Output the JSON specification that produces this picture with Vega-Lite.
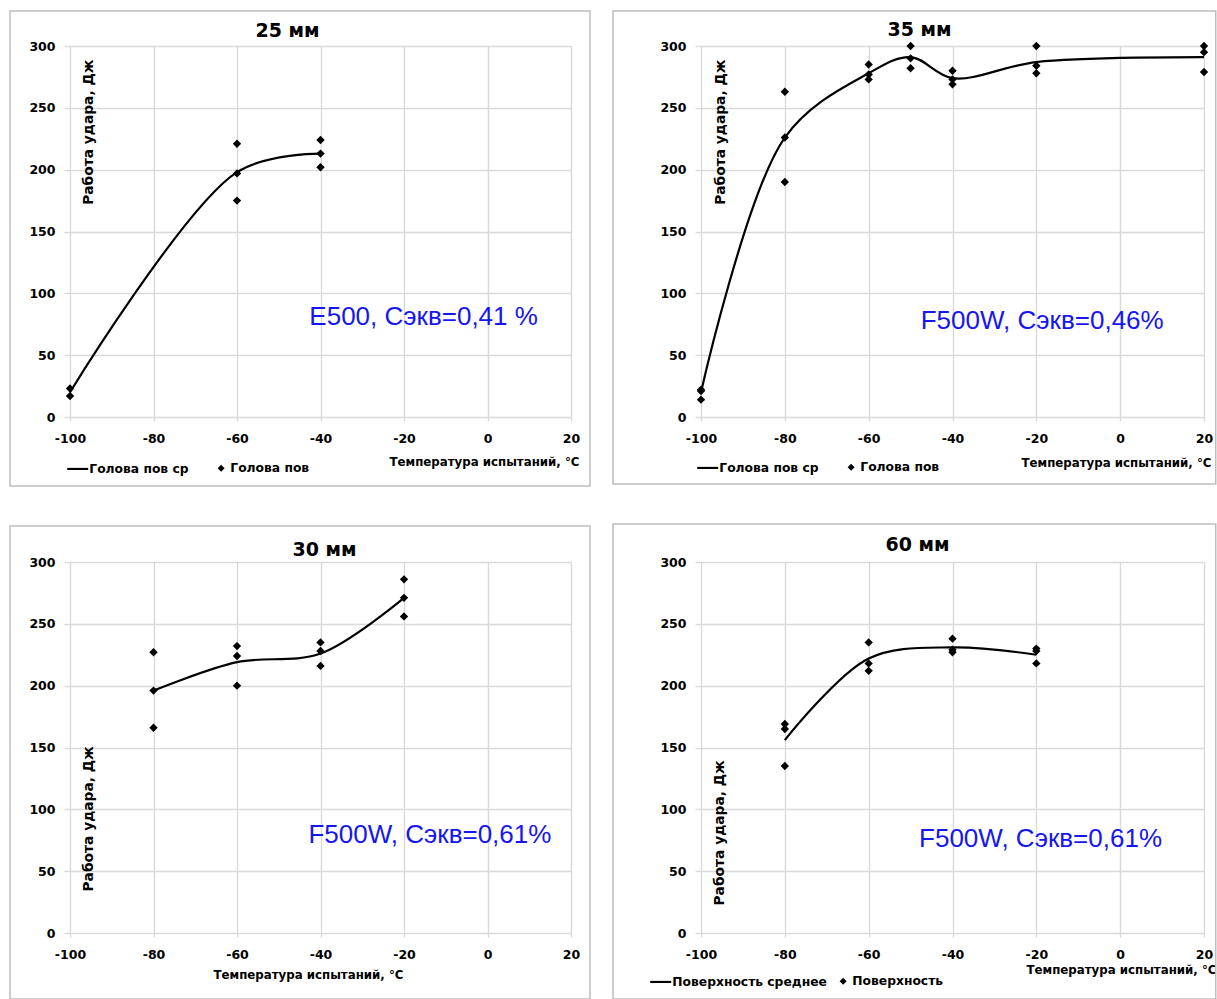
{
  "$schema": "https://vega.github.io/schema/vega-lite/v6.json",
  "background": "white",
  "padding": {"left": 9, "top": 10, "right": 0, "bottom": 0},
  "config": {
    "font": "DejaVu Sans",
    "view": {"stroke": null},
    "axis": {"grid": true, "gridColor": "#d9d9d9", "gridWidth": 1.4, "domain": false, "tickColor": "#d9d9d9", "tickWidth": 1.4, "labelFont": "DejaVu Sans", "labelFontWeight": "bold", "labelFontSize": 12.5, "labelColor": "black", "titleFont": "DejaVu Sans", "titleFontWeight": "bold", "titleColor": "black"},
    "axisX": {"tickSize": 4, "labelPadding": 11, "labelFlush": false, "titleBaseline": "middle", "titleFontSize": 11.8},
    "axisY": {"tickSize": 6, "labelPadding": 9, "titleAngle": -90, "titleBaseline": "middle", "titleFontSize": 13.8},
    "title": {"font": "DejaVu Sans", "fontSize": 19, "fontWeight": "bold", "color": "black", "baseline": "alphabetic"},
    "legend": {"orient": "none", "direction": "horizontal", "labelFont": "DejaVu Sans", "labelFontWeight": "bold", "labelFontSize": 12.3, "labelColor": "black", "symbolSize": 49, "symbolStrokeColor": "black", "symbolStrokeWidth": 2, "symbolFillColor": "black", "columnPadding": 24, "labelOffset": 3, "padding": 0}
  },
  "datasets": {
    "p25": [
      {"t": -100, "e": 20, "s": "Голова пов ср"},
      {"t": -60, "e": 198, "s": "Голова пов ср"},
      {"t": -40, "e": 213, "s": "Голова пов ср"},
      {"t": -100, "e": 23, "s": "Голова пов"},
      {"t": -100, "e": 17, "s": "Голова пов"},
      {"t": -60, "e": 221, "s": "Голова пов"},
      {"t": -60, "e": 197, "s": "Голова пов"},
      {"t": -60, "e": 175, "s": "Голова пов"},
      {"t": -40, "e": 224, "s": "Голова пов"},
      {"t": -40, "e": 213, "s": "Голова пов"},
      {"t": -40, "e": 202, "s": "Голова пов"}
    ],
    "p35": [
      {"t": -100, "e": 20, "s": "Голова пов ср"},
      {"t": -80, "e": 226, "s": "Голова пов ср"},
      {"t": -60, "e": 278, "s": "Голова пов ср"},
      {"t": -50, "e": 291, "s": "Голова пов ср"},
      {"t": -40, "e": 274, "s": "Голова пов ср"},
      {"t": -20, "e": 287, "s": "Голова пов ср"},
      {"t": 20, "e": 291, "s": "Голова пов ср"},
      {"t": -100, "e": 22, "s": "Голова пов"},
      {"t": -100, "e": 21, "s": "Голова пов"},
      {"t": -100, "e": 14, "s": "Голова пов"},
      {"t": -80, "e": 263, "s": "Голова пов"},
      {"t": -80, "e": 226, "s": "Голова пов"},
      {"t": -80, "e": 190, "s": "Голова пов"},
      {"t": -60, "e": 285, "s": "Голова пов"},
      {"t": -60, "e": 277, "s": "Голова пов"},
      {"t": -60, "e": 273, "s": "Голова пов"},
      {"t": -50, "e": 300, "s": "Голова пов"},
      {"t": -50, "e": 290, "s": "Голова пов"},
      {"t": -50, "e": 282, "s": "Голова пов"},
      {"t": -40, "e": 280, "s": "Голова пов"},
      {"t": -40, "e": 273, "s": "Голова пов"},
      {"t": -40, "e": 269, "s": "Голова пов"},
      {"t": -20, "e": 300, "s": "Голова пов"},
      {"t": -20, "e": 284, "s": "Голова пов"},
      {"t": -20, "e": 278, "s": "Голова пов"},
      {"t": 20, "e": 300, "s": "Голова пов"},
      {"t": 20, "e": 295, "s": "Голова пов"},
      {"t": 20, "e": 279, "s": "Голова пов"}
    ],
    "p30": [
      {"t": -80, "e": 196, "s": "ср"},
      {"t": -60, "e": 219, "s": "ср"},
      {"t": -40, "e": 226, "s": "ср"},
      {"t": -20, "e": 271, "s": "ср"},
      {"t": -80, "e": 227, "s": "пов"},
      {"t": -80, "e": 196, "s": "пов"},
      {"t": -80, "e": 166, "s": "пов"},
      {"t": -60, "e": 232, "s": "пов"},
      {"t": -60, "e": 224, "s": "пов"},
      {"t": -60, "e": 200, "s": "пов"},
      {"t": -40, "e": 235, "s": "пов"},
      {"t": -40, "e": 228, "s": "пов"},
      {"t": -40, "e": 216, "s": "пов"},
      {"t": -20, "e": 286, "s": "пов"},
      {"t": -20, "e": 271, "s": "пов"},
      {"t": -20, "e": 256, "s": "пов"}
    ],
    "p60": [
      {"t": -80, "e": 156, "s": "Поверхность среднее"},
      {"t": -60, "e": 222, "s": "Поверхность среднее"},
      {"t": -40, "e": 231, "s": "Поверхность среднее"},
      {"t": -20, "e": 225, "s": "Поверхность среднее"},
      {"t": -80, "e": 169, "s": "Поверхность"},
      {"t": -80, "e": 165, "s": "Поверхность"},
      {"t": -80, "e": 135, "s": "Поверхность"},
      {"t": -60, "e": 235, "s": "Поверхность"},
      {"t": -60, "e": 218, "s": "Поверхность"},
      {"t": -60, "e": 212, "s": "Поверхность"},
      {"t": -40, "e": 238, "s": "Поверхность"},
      {"t": -40, "e": 229, "s": "Поверхность"},
      {"t": -40, "e": 227, "s": "Поверхность"},
      {"t": -20, "e": 230, "s": "Поверхность"},
      {"t": -20, "e": 228, "s": "Поверхность"},
      {"t": -20, "e": 218, "s": "Поверхность"}
    ]
  },
  "columns": 2,
  "spacing": {"row": 145, "column": 130},
  "bounds": "flush",
  "resolve": {"scale": {"shape": "independent"}, "legend": {"shape": "independent"}},
  "concat": [
    {
      "width": 501, "height": 371,
      "title": {"text": "25 мм", "dx": -33, "offset": -31},
      "data": {"name": "p25"},
      "layer": [
        {"data": {"values": [{}]},
          "mark": {"type": "rect", "filled": false, "color": "#bdbdbd", "strokeWidth": 1.5},
          "encoding": {
            "x": {"datum": -114.37, "type": "quantitative", "title": "Температура испытаний, °C"}, "x2": {"datum": 24.55},
            "y": {"datum": 328.3, "type": "quantitative", "title": "Работа  удара, Дж"}, "y2": {"datum": -55.8}}},
        {"transform": [{"filter": "datum.s == 'Голова пов ср'"}],
          "mark": {"type": "line", "interpolate": "catmull-rom", "color": "black", "strokeWidth": 2.2},
          "encoding": {
            "x": {"field": "t", "type": "quantitative", "scale": {"domain": [-100, 20], "nice": false, "zero": false},
              "axis": {"values": [-100, -80, -60, -40, -20, 0, 20], "labelExpr": "replace(datum.label, '\u2212', '-')", "title": "Температура испытаний, °C", "titleAlign": "right", "titleAnchor": "end", "titleX": 509, "titleY": 44}},
            "y": {"field": "e", "type": "quantitative", "scale": {"domain": [0, 300], "nice": false},
              "axis": {"values": [0, 50, 100, 150, 200, 250, 300], "title": "Работа  удара, Дж", "titleAlign": "right", "titleX": 18, "titleY": 13}}
          }},
        {"transform": [{"filter": "datum.s == 'Голова пов'"}],
          "mark": {"type": "point", "filled": true, "color": "black", "size": 70, "opacity": 1},
          "encoding": {
            "x": {"field": "t", "type": "quantitative", "title": "Температура испытаний, °C"},
            "y": {"field": "e", "type": "quantitative", "title": "Работа  удара, Дж"},
            "shape": {"field": "s", "type": "nominal",
              "scale": {"domain": ["Голова пов ср", "Голова пов"], "range": ["M-3.7,-0.3H2.3V0.3H-3.7Z", "diamond"]},
              "legend": {"title": null, "legendX": 4, "legendY": 416, "encode": {"symbols": {"update": {"stroke": {"value": "black"}, "strokeWidth": {"value": 1}, "fill": {"value": "black"}}}}}}}},
        {"data": {"values": [{"label": "E500, Сэкв=0,41 %"}]},
          "mark": {"type": "text", "color": "#1616f2", "fontSize": 26, "align": "center", "baseline": "middle", "font": "Liberation Sans"},
          "encoding": {
            "x": {"datum": -15.3, "type": "quantitative", "title": "Температура испытаний, °C"},
            "y": {"datum": 81, "type": "quantitative", "title": "Работа  удара, Дж"},
            "text": {"field": "label"}}}
      ]
    },
    {
      "width": 503, "height": 371,
      "title": {"text": "35 мм", "dx": -33, "offset": -30},
      "data": {"name": "p35"},
      "layer": [
        {"data": {"values": [{}]},
          "mark": {"type": "rect", "filled": false, "color": "#bdbdbd", "strokeWidth": 1.5},
          "encoding": {
            "x": {"datum": -120.99, "type": "quantitative", "title": "Температура испытаний, °C"}, "x2": {"datum": 22.8},
            "y": {"datum": 328.3, "type": "quantitative", "title": "Работа  удара, Дж"}, "y2": {"datum": -54.2}}},
        {"transform": [{"filter": "datum.s == 'Голова пов ср'"}],
          "mark": {"type": "line", "interpolate": "catmull-rom", "color": "black", "strokeWidth": 2.2},
          "encoding": {
            "x": {"field": "t", "type": "quantitative", "scale": {"domain": [-100, 20], "nice": false, "zero": false},
              "axis": {"values": [-100, -80, -60, -40, -20, 0, 20], "labelExpr": "replace(datum.label, '\u2212', '-')", "title": "Температура испытаний, °C", "titleAlign": "right", "titleAnchor": "end", "titleX": 510, "titleY": 45}},
            "y": {"field": "e", "type": "quantitative", "scale": {"domain": [0, 300], "nice": false},
              "axis": {"values": [0, 50, 100, 150, 200, 250, 300], "title": "Работа  удара, Дж", "titleAlign": "right", "titleX": 19, "titleY": 13}}
          }},
        {"transform": [{"filter": "datum.s == 'Голова пов'"}],
          "mark": {"type": "point", "filled": true, "color": "black", "size": 70, "opacity": 1},
          "encoding": {
            "x": {"field": "t", "type": "quantitative", "title": "Температура испытаний, °C"},
            "y": {"field": "e", "type": "quantitative", "title": "Работа  удара, Дж"},
            "shape": {"field": "s", "type": "nominal",
              "scale": {"domain": ["Голова пов ср", "Голова пов"], "range": ["M-3.7,-0.3H2.3V0.3H-3.7Z", "diamond"]},
              "legend": {"title": null, "legendX": 3, "legendY": 415, "encode": {"symbols": {"update": {"stroke": {"value": "black"}, "strokeWidth": {"value": 1}, "fill": {"value": "black"}}}}}}}},
        {"data": {"values": [{"label": "F500W, Сэкв=0,46%"}]},
          "mark": {"type": "text", "color": "#1616f2", "fontSize": 26, "align": "center", "baseline": "middle", "font": "Liberation Sans"},
          "encoding": {
            "x": {"datum": -18.6, "type": "quantitative", "title": "Температура испытаний, °C"},
            "y": {"datum": 77.5, "type": "quantitative", "title": "Работа  удара, Дж"},
            "text": {"field": "label"}}}
      ]
    },
    {
      "width": 501, "height": 371,
      "title": {"text": "30 мм", "dx": 4, "offset": -35},
      "data": {"name": "p30"},
      "layer": [
        {"data": {"values": [{}]},
          "mark": {"type": "rect", "filled": false, "color": "#bdbdbd", "strokeWidth": 1.5},
          "encoding": {
            "x": {"datum": -114.37, "type": "quantitative", "title": "Температура испытаний, °C"}, "x2": {"datum": 24.55},
            "y": {"datum": 329.1, "type": "quantitative", "title": "Работа  удара, Дж"}, "y2": {"datum": -53.4}}},
        {"transform": [{"filter": "datum.s == 'ср'"}],
          "mark": {"type": "line", "interpolate": "catmull-rom", "color": "black", "strokeWidth": 2.2},
          "encoding": {
            "x": {"field": "t", "type": "quantitative", "scale": {"domain": [-100, 20], "nice": false, "zero": false},
              "axis": {"values": [-100, -80, -60, -40, -20, 0, 20], "labelExpr": "replace(datum.label, '\u2212', '-')", "title": "Температура испытаний, °C", "titleAlign": "center", "titleX": 238, "titleY": 41}},
            "y": {"field": "e", "type": "quantitative", "scale": {"domain": [0, 300], "nice": false},
              "axis": {"values": [0, 50, 100, 150, 200, 250, 300], "title": "Работа  удара, Дж", "titleAlign": "left", "titleX": 18, "titleY": 329}}
          }},
        {"transform": [{"filter": "datum.s == 'пов'"}],
          "mark": {"type": "point", "filled": true, "color": "black", "size": 70, "opacity": 1, "shape": "diamond"},
          "encoding": {
            "x": {"field": "t", "type": "quantitative", "title": "Температура испытаний, °C"},
            "y": {"field": "e", "type": "quantitative", "title": "Работа  удара, Дж"}}},
        {"data": {"values": [{"label": "F500W, Сэкв=0,61%"}]},
          "mark": {"type": "text", "color": "#1616f2", "fontSize": 26, "align": "center", "baseline": "middle", "font": "Liberation Sans"},
          "encoding": {
            "x": {"datum": -13.8, "type": "quantitative", "title": "Температура испытаний, °C"},
            "y": {"datum": 79.5, "type": "quantitative", "title": "Работа  удара, Дж"},
            "text": {"field": "label"}}}
      ]
    },
    {
      "width": 503, "height": 371,
      "title": {"text": "60 мм", "dx": -35, "offset": -32},
      "data": {"name": "p60"},
      "layer": [
        {"data": {"values": [{}]},
          "mark": {"type": "rect", "filled": false, "color": "#bdbdbd", "strokeWidth": 1.5},
          "encoding": {
            "x": {"datum": -120.99, "type": "quantitative", "title": "Температура испытаний, °C"}, "x2": {"datum": 22.8},
            "y": {"datum": 330.7, "type": "quantitative", "title": "Работа  удара, Дж"}, "y2": {"datum": -53.4}}},
        {"transform": [{"filter": "datum.s == 'Поверхность среднее'"}],
          "mark": {"type": "line", "interpolate": "catmull-rom", "color": "black", "strokeWidth": 2.2},
          "encoding": {
            "x": {"field": "t", "type": "quantitative", "scale": {"domain": [-100, 20], "nice": false, "zero": false},
              "axis": {"values": [-100, -80, -60, -40, -20, 0, 20], "labelExpr": "replace(datum.label, '\u2212', '-')", "title": "Температура испытаний, °C", "titleAlign": "right", "titleAnchor": "end", "titleX": 515, "titleY": 36}},
            "y": {"field": "e", "type": "quantitative", "scale": {"domain": [0, 300], "nice": false},
              "axis": {"values": [0, 50, 100, 150, 200, 250, 300], "title": "Работа  удара, Дж", "titleAlign": "left", "titleX": 18, "titleY": 343}}
          }},
        {"transform": [{"filter": "datum.s == 'Поверхность'"}],
          "mark": {"type": "point", "filled": true, "color": "black", "size": 70, "opacity": 1},
          "encoding": {
            "x": {"field": "t", "type": "quantitative", "title": "Температура испытаний, °C"},
            "y": {"field": "e", "type": "quantitative", "title": "Работа  удара, Дж"},
            "shape": {"field": "s", "type": "nominal",
              "scale": {"domain": ["Поверхность среднее", "Поверхность"], "range": ["M-3.7,-0.3H2.3V0.3H-3.7Z", "diamond"]},
              "legend": {"title": null, "legendX": -44, "legendY": 413, "columnPadding": 8, "encode": {"symbols": {"update": {"stroke": {"value": "black"}, "strokeWidth": {"value": 1}, "fill": {"value": "black"}}}}}}}},
        {"data": {"values": [{"label": "F500W, Сэкв=0,61%"}]},
          "mark": {"type": "text", "color": "#1616f2", "fontSize": 26, "align": "center", "baseline": "middle", "font": "Liberation Sans"},
          "encoding": {
            "x": {"datum": -19, "type": "quantitative", "title": "Температура испытаний, °C"},
            "y": {"datum": 76, "type": "quantitative", "title": "Работа  удара, Дж"},
            "text": {"field": "label"}}}
      ]
    }
  ]
}
